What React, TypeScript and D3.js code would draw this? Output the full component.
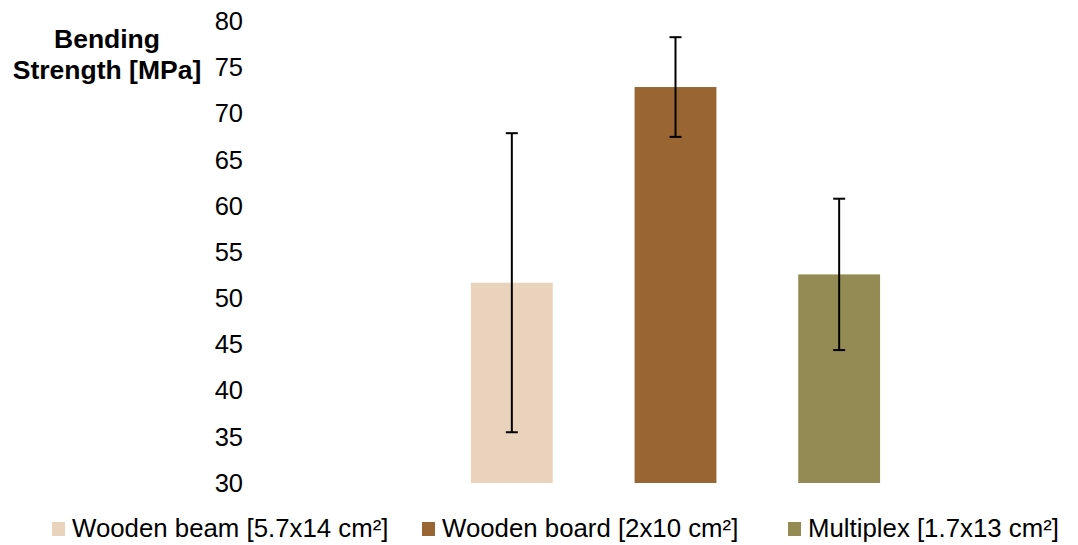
import React, { useRef, useEffect } from 'react';
import * as d3 from 'd3';

const categories = ['Wooden beam [5.7x14 cm²]', 'Wooden board [2x10 cm²]', 'Multiplex [1.7x13 cm²]'];
const values = [51.7, 72.9, 52.6];
const errors = [16.2, 5.4, 8.2];
const colors = ['#EAD3BC', '#996633', '#948A54'];
const yTicks = [30, 35, 40, 45, 50, 55, 60, 65, 70, 75, 80];

export default function App() {
  const ref = useRef<SVGSVGElement>(null);

  useEffect(() => {
    const width = 1078;
    const height = 545;
    const svg = d3.select(ref.current);
    svg.selectAll('*').remove();

    const font = 'Arial, "Liberation Sans", sans-serif';

    const x = d3.scaleBand<string>()
      .domain(categories)
      .range([430, 921])
      .paddingInner(0.5)
      .paddingOuter(0.25);

    const y = d3.scaleLinear().domain([30, 80]).range([483, 21.5]);

    // y axis labels (no axis line)
    const yAxis = svg.append('g')
      .attr('transform', 'translate(243, 0)')
      .call(d3.axisLeft(y).tickValues(yTicks).tickSize(0).tickPadding(0));
    yAxis.select('.domain').remove();
    yAxis.selectAll('text')
      .attr('font-family', font)
      .attr('font-size', 25.5)
      .attr('fill', '#000');

    // axis title
    const title = svg.append('text')
      .attr('font-family', font)
      .attr('font-size', 26.5)
      .attr('font-weight', 'bold')
      .attr('text-anchor', 'middle')
      .attr('fill', '#000');
    title.append('tspan').attr('x', 107).attr('y', 48).text('Bending');
    title.append('tspan').attr('x', 107).attr('y', 79).text('Strength [MPa]');

    // bars
    svg.append('g')
      .selectAll('rect')
      .data(categories)
      .join('rect')
      .attr('x', (d) => x(d)!)
      .attr('width', x.bandwidth())
      .attr('y', (d, i) => y(values[i]))
      .attr('height', (d, i) => y(30) - y(values[i]))
      .attr('fill', (d, i) => colors[i]);

    // error bars
    const capW = 6;
    const err = svg.append('g').attr('stroke', '#000').attr('stroke-width', 2);
    categories.forEach((c, i) => {
      const cx = x(c)! + x.bandwidth() / 2;
      const hi = y(values[i] + errors[i]);
      const lo = y(values[i] - errors[i]);
      err.append('line').attr('x1', cx).attr('x2', cx).attr('y1', hi).attr('y2', lo);
      err.append('line').attr('x1', cx - capW).attr('x2', cx + capW).attr('y1', hi).attr('y2', hi);
      err.append('line').attr('x1', cx - capW).attr('x2', cx + capW).attr('y1', lo).attr('y2', lo);
    });

    // legend
    const legendX = [52, 422, 788];
    const legend = svg.append('g');
    categories.forEach((c, i) => {
      const g = legend.append('g').attr('transform', `translate(${legendX[i]}, 0)`);
      g.append('rect')
        .attr('x', 0)
        .attr('y', 522)
        .attr('width', 13)
        .attr('height', 14)
        .attr('fill', colors[i]);
      g.append('text')
        .attr('x', 20)
        .attr('y', 537)
        .attr('font-family', font)
        .attr('font-size', 25.8)
        .attr('fill', '#000')
        .text(c);
    });

    svg.attr('viewBox', `0 0 ${width} ${height}`);
  }, []);

  return (
    <svg
      ref={ref}
      width={1078}
      height={545}
      style={{ position: 'absolute', left: 0, top: 0, background: '#fff' }}
    />
  );
}
